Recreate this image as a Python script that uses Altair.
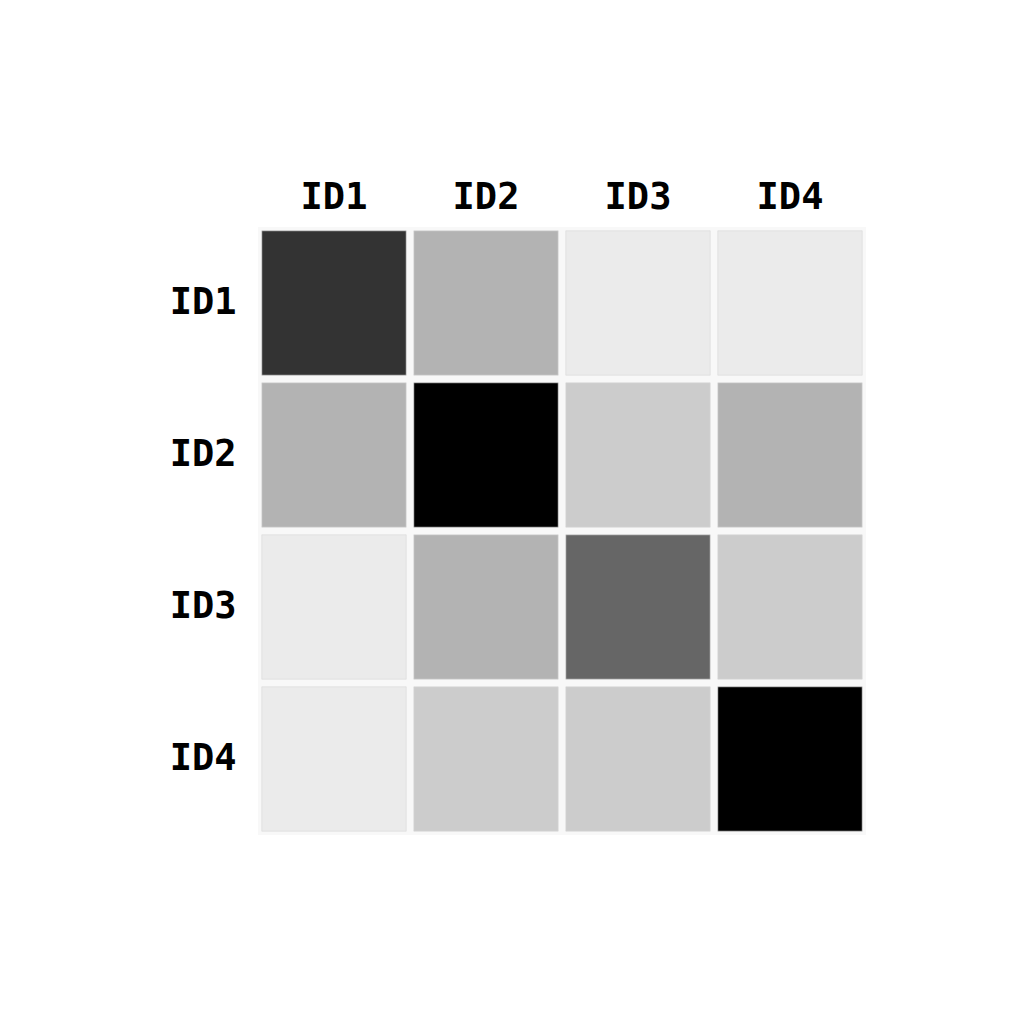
import altair as alt
import pandas as pd

ids = ["ID1", "ID2", "ID3", "ID4"]
# rows (y) x columns (x); darkness value 0..1
values = [
    [0.80, 0.30, 0.08, 0.08],
    [0.30, 1.00, 0.20, 0.30],
    [0.08, 0.30, 0.60, 0.20],
    [0.08, 0.20, 0.20, 1.00],
]

rows = []
for i, r in enumerate(ids):
    for j, c in enumerate(ids):
        rows.append({"row": r, "col": c, "value": values[i][j]})
df = pd.DataFrame(rows)

chart = alt.Chart(df).mark_rect(stroke="#d8d8d8", strokeWidth=0.6).encode(
    x=alt.X("col:N", sort=ids,
            scale=alt.Scale(paddingInner=0.05, paddingOuter=0.025),
            axis=alt.Axis(orient="top", title=None, labelAngle=0, ticks=False,
                          domain=False, labelPadding=11, labelFontSize=37,
                          labelFont="DejaVu Sans Mono", labelFontWeight="bold",
                          labelColor="black")),
    y=alt.Y("row:N", sort=ids,
            scale=alt.Scale(paddingInner=0.05, paddingOuter=0.025),
            axis=alt.Axis(title=None, ticks=False, domain=False, labelPadding=22,
                          labelFontSize=37, labelFont="DejaVu Sans Mono",
                          labelFontWeight="bold", labelColor="black")),
    color=alt.Color("value:Q",
                    scale=alt.Scale(domain=[0, 1], range=["#ffffff", "#000000"],
                                    interpolate="rgb"),
                    legend=None),
).properties(
    width=608, height=608,
    autosize=alt.AutoSizeParams(type="none"),
    padding={"left": 250, "top": 219, "right": 20, "bottom": 20},
).configure_view(fill="#f8f8f8", stroke=None).configure_axis(grid=False)

chart.save("out.html", embed_options={"renderer": "svg", "actions": False})
